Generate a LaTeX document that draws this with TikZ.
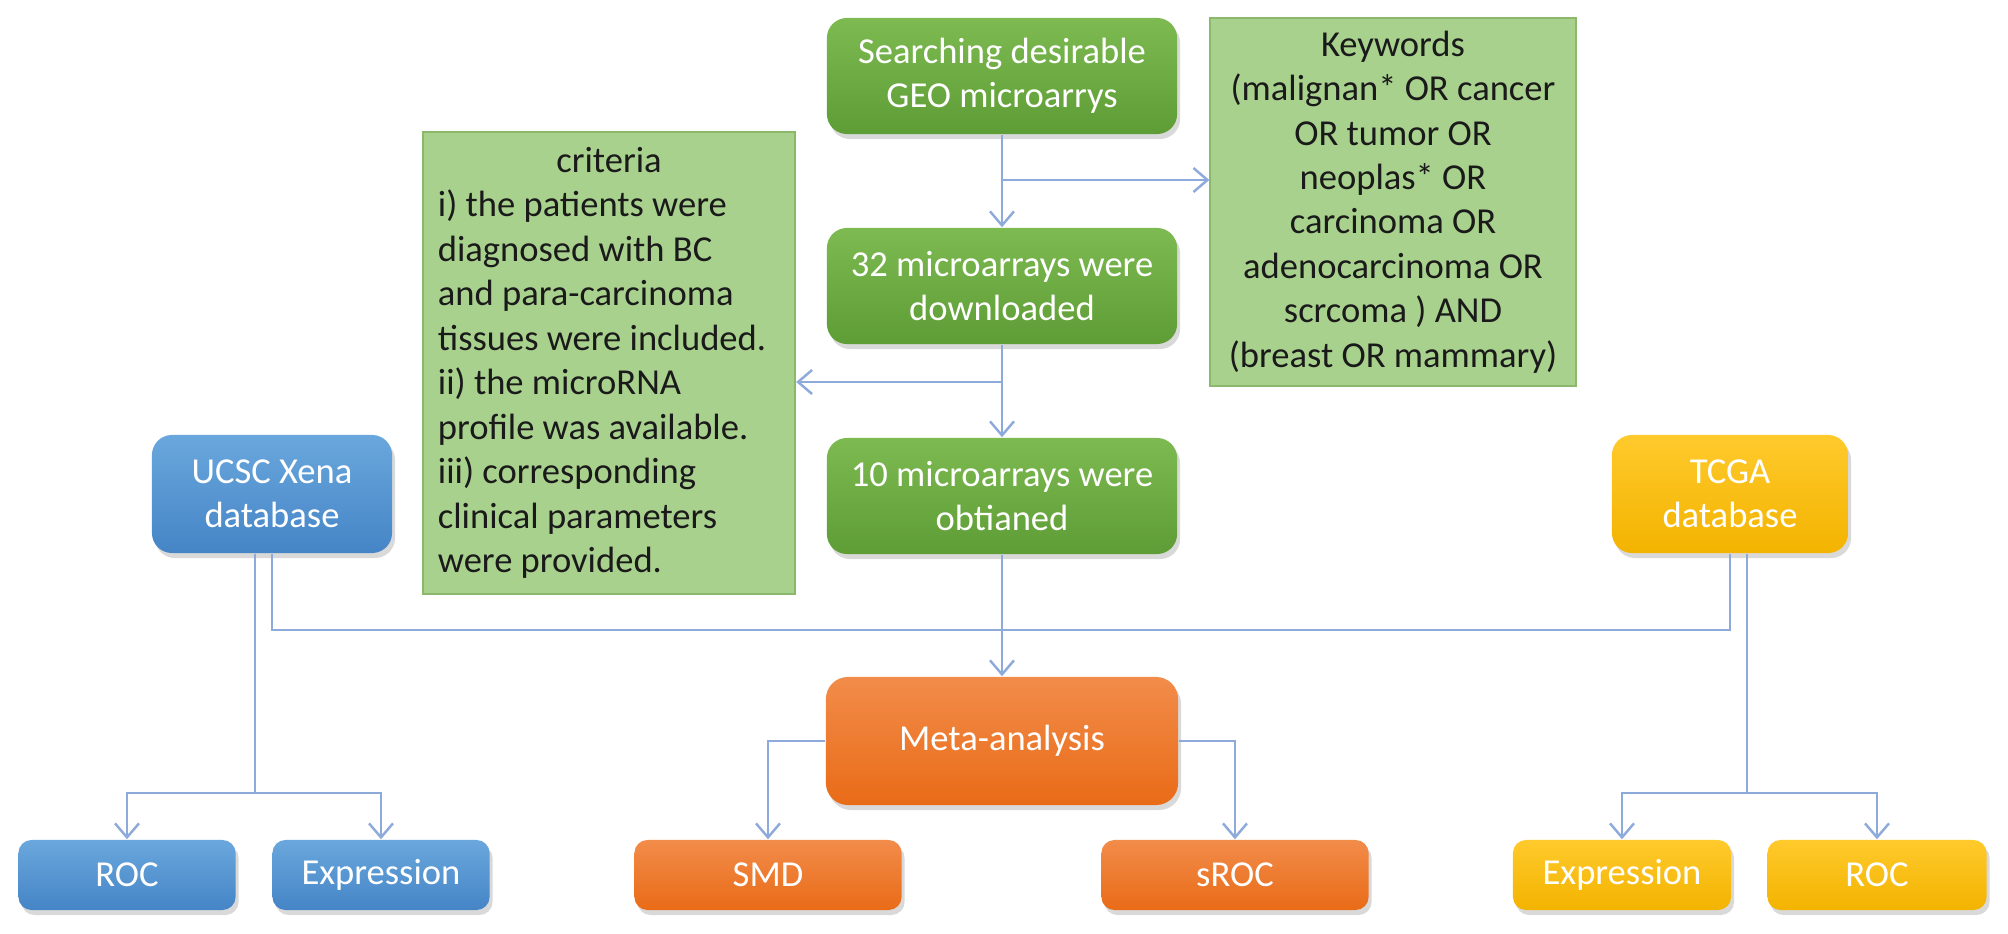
\documentclass[tikz,border=0pt]{standalone}
\usepackage{fontspec}
\setmainfont{Carlito}
\usetikzlibrary{arrows.meta, positioning, shadows}
\definecolor{geotop}{HTML}{7DBA52}
\definecolor{geobot}{HTML}{5E9C35}
\definecolor{notefill}{HTML}{A9D18E}
\definecolor{notedraw}{HTML}{8CB86C}
\definecolor{xenatop}{HTML}{6AA7DD}
\definecolor{xenabot}{HTML}{4585C6}
\definecolor{metatop}{HTML}{F28C4A}
\definecolor{metabot}{HTML}{E96B17}
\definecolor{tcgatop}{HTML}{FFCA2C}
\definecolor{tcgabot}{HTML}{F3B300}
\definecolor{linkc}{HTML}{8EAADB}
\definecolor{ink}{HTML}{1A1A1A}

\begin{document}
\begin{tikzpicture}[x=0.01cm, y=-0.01cm,
  font=\fontsize{10.4}{12.65}\selectfont,
  box/.style={rounded corners=0.2cm, text=white, align=center, inner sep=0pt,
    drop shadow={opacity=0.3, shadow xshift=0.03cm, shadow yshift=-0.05cm}},
  geobox/.style={box, top color=geotop, bottom color=geobot,
    minimum width=3.5cm, minimum height=1.16cm},
  xenabox/.style={box, top color=xenatop, bottom color=xenabot},
  metabox/.style={box, top color=metatop, bottom color=metabot},
  tcgabox/.style={box, top color=tcgatop, bottom color=tcgabot},
  leaf/.style={rounded corners=0.13cm, minimum height=0.7cm},
  note/.style={draw=notedraw, fill=notefill, line width=0.6pt, text=ink, inner sep=0pt},
  link/.style={draw=linkc, line width=0.7pt},
  arr/.style={link, -{Straight Barb[length=1.4mm, width=2.4mm]}}
]
  \useasboundingbox (0,0) rectangle (2008,934);

  % GEO
  \node[geobox] (search) at (1002,76) {Searching desirable\\GEO microarrys};
  \node[geobox] (n32) at (1002,286) {32 microarrays were\\downloaded};
  \node[geobox] (n10) at (1002,496) {10 microarrays were\\obtianed};
  \node[note, minimum width=3.65cm, minimum height=3.68cm, align=center] (kw) at (1393,202)
    {Keywords\\(malignan* OR cancer\\OR tumor OR\\neoplas* OR\\carcinoma OR\\
     adenocarcinoma OR\\scrcoma ) AND\\(breast OR mammary)};
  \node[note, minimum width=3.72cm, minimum height=4.61cm, inner xsep=0.15cm,
        text width=3.42cm, align=flush left] (crit) at (609,363)
    {\hfill criteria\hfill\null\\i) the patients were\\diagnosed with BC\\
     and para-carcinoma\\tissues were included.\\ii) the microRNA\\
     profile was available.\\iii) corresponding\\clinical parameters\\were provided.};

  % databases
  \node[xenabox, minimum width=2.4cm, minimum height=1.18cm] (ucsc) at (272,494)
    {UCSC Xena\\database};
  \node[tcgabox, minimum width=2.36cm, minimum height=1.18cm] (tcga) at (1730,494)
    {TCGA\\database};
  \node[metabox, minimum width=3.52cm, minimum height=1.28cm, rounded corners=0.22cm] (meta)
    at (1002,741) {Meta-analysis};

  % results
  \node[xenabox, leaf, minimum width=2.17cm] (rocA) at (127,875) {ROC};
  \node[xenabox, leaf, minimum width=2.17cm] (exprA) at (381,875) {Expression};
  \node[metabox, leaf, minimum width=2.67cm] (smd) at (768,875) {SMD};
  \node[metabox, leaf, minimum width=2.67cm] (sroc) at (1235,875) {sROC};
  \node[tcgabox, leaf, minimum width=2.18cm] (exprB) at (1622,875) {Expression};
  \node[tcgabox, leaf, minimum width=2.19cm] (rocB) at (1877,875) {ROC};

  \coordinate (kwfork) at (1002,180);
  \coordinate (crfork) at (1002,382);
  \coordinate (join) at (1002,630);
  \coordinate (usplit) at (255,793);
  \coordinate (tsplit) at (1747,793);

  \draw[arr] (search) -- (n32);
  \draw[arr] (n32) -- (n10);
  \draw[arr] (kwfork) -- (kwfork -| kw.west);
  \draw[arr] (crfork) -- (crfork -| crit.east);
  \draw[arr] (n10) -- (meta);
  \draw[link] (ucsc.south) -- (ucsc.south |- join) -- (tcga.south |- join) -- (tcga.south);
  \draw[link] (usplit |- ucsc.south) -- (usplit);
  \draw[arr] (usplit) -| (rocA.north);
  \draw[arr] (usplit) -| (exprA.north);
  \draw[arr] (meta.west) -| (smd.north);
  \draw[arr] (meta.east) -| (sroc.north);
  \draw[link] (tsplit |- tcga.south) -- (tsplit);
  \draw[arr] (tsplit) -| (exprB.north);
  \draw[arr] (tsplit) -| (rocB.north);
\end{tikzpicture}
\end{document}
